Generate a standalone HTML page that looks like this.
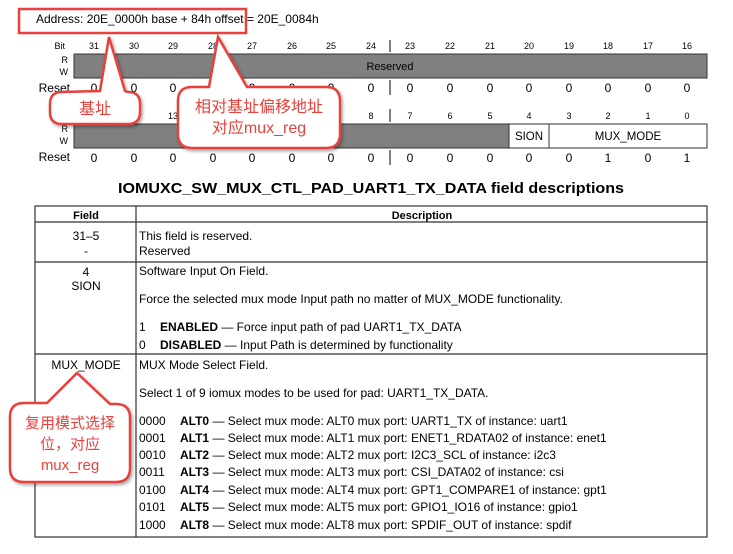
<!DOCTYPE html>
<html><head><meta charset="utf-8"><style>
html,body{margin:0;padding:0;background:#fff;}
svg{display:block;font-family:"Liberation Sans",Arial,sans-serif;}
.cj{font-family:"Liberation Sans","Noto Sans CJK SC",sans-serif;}
</style></head><body>
<svg width="733" height="554" viewBox="0 0 733 554" xmlns="http://www.w3.org/2000/svg">
<defs>
<filter id="sh" x="-20%" y="-20%" width="140%" height="140%"><feDropShadow dx="1.5" dy="2" stdDeviation="1.5" flood-color="#000" flood-opacity="0.35"/></filter>
</defs>
<text x="36" y="23" font-size="12">Address: 20E_0000h base + 84h offset = 20E_0084h</text>

<g font-size="9" text-anchor="middle">
<text x="65" y="49" text-anchor="end">Bit</text>
<text x="94" y="49">31</text><text x="134" y="49">30</text><text x="173" y="49">29</text><text x="213" y="49">28</text>
<text x="252" y="49">27</text><text x="292" y="49">26</text><text x="331" y="49">25</text><text x="371" y="49">24</text>
<text x="410" y="49">23</text><text x="450" y="49">22</text><text x="490" y="49">21</text><text x="529" y="49">20</text>
<text x="569" y="49">19</text><text x="608" y="49">18</text><text x="648" y="49">17</text><text x="687" y="49">16</text>
<text x="68" y="63" text-anchor="end">R</text><text x="68" y="75" text-anchor="end">W</text>
</g>
<rect x="74" y="54" width="633" height="24" fill="#808080" stroke="#333" stroke-width="1"/>
<text x="390" y="70" font-size="11" text-anchor="middle">Reserved</text>
<line x1="390" y1="40" x2="390" y2="52" stroke="#000"/>
<line x1="390" y1="80" x2="390" y2="95" stroke="#000"/>
<g font-size="12" text-anchor="middle">
<text x="70" y="92" text-anchor="end">Reset</text>
<text x="94" y="92">0</text><text x="134" y="92">0</text><text x="173" y="92">0</text><text x="213" y="92">0</text>
<text x="252" y="92">0</text><text x="292" y="92">0</text><text x="331" y="92">0</text><text x="371" y="92">0</text>
<text x="410" y="92">0</text><text x="450" y="92">0</text><text x="490" y="92">0</text><text x="529" y="92">0</text>
<text x="569" y="92">0</text><text x="608" y="92">0</text><text x="648" y="92">0</text><text x="687" y="92">0</text>
</g>

<g font-size="9" text-anchor="middle">
<text x="94" y="119">15</text><text x="134" y="119">14</text><text x="173" y="119">13</text><text x="213" y="119">12</text>
<text x="252" y="119">11</text><text x="292" y="119">10</text><text x="331" y="119">9</text><text x="371" y="119">8</text>
<text x="410" y="119">7</text><text x="450" y="119">6</text><text x="490" y="119">5</text><text x="529" y="119">4</text>
<text x="569" y="119">3</text><text x="608" y="119">2</text><text x="648" y="119">1</text><text x="687" y="119">0</text>
<text x="68" y="132" text-anchor="end">R</text><text x="68" y="144" text-anchor="end">W</text>
</g>
<rect x="74" y="124" width="435" height="24" fill="#808080" stroke="#333"/>
<rect x="509" y="124" width="40" height="24" fill="#fff" stroke="#333"/>
<rect x="549" y="124" width="158" height="24" fill="#fff" stroke="#333"/>
<text x="529" y="140" font-size="11.5" text-anchor="middle">SION</text>
<text x="628" y="140" font-size="11.5" text-anchor="middle">MUX_MODE</text>
<line x1="390" y1="109" x2="390" y2="122" stroke="#000"/>
<line x1="390" y1="150" x2="390" y2="165" stroke="#000"/>
<g font-size="12" text-anchor="middle">
<text x="70" y="161" text-anchor="end">Reset</text>
<text x="94" y="162">0</text><text x="134" y="162">0</text><text x="173" y="162">0</text><text x="213" y="162">0</text>
<text x="252" y="162">0</text><text x="292" y="162">0</text><text x="331" y="162">0</text><text x="371" y="162">0</text>
<text x="410" y="162">0</text><text x="450" y="162">0</text><text x="490" y="162">0</text><text x="529" y="162">0</text>
<text x="569" y="162">0</text><text x="608" y="162">1</text><text x="648" y="162">0</text><text x="687" y="162">1</text>
</g>

<text x="371" y="193" font-size="15" font-weight="bold" text-anchor="middle" textLength="506" lengthAdjust="spacingAndGlyphs">IOMUXC_SW_MUX_CTL_PAD_UART1_TX_DATA field descriptions</text>

<rect x="35" y="206" width="672" height="331" fill="none" stroke="#333" stroke-width="1.2"/>
<line x1="35" y1="222" x2="707" y2="222" stroke="#333" stroke-width="1.2"/>
<line x1="35" y1="262" x2="707" y2="262" stroke="#333" stroke-width="1.2"/>
<line x1="35" y1="354" x2="707" y2="354" stroke="#333" stroke-width="1.2"/>
<line x1="136" y1="206" x2="136" y2="537" stroke="#333" stroke-width="1.2"/>
<g font-size="12">
<text x="86" y="219" font-size="11" font-weight="bold" text-anchor="middle">Field</text>
<text x="422" y="219" font-size="11" font-weight="bold" text-anchor="middle">Description</text>
<text x="86" y="240" text-anchor="middle">31–5</text>
<text x="86" y="255" text-anchor="middle">-</text>
<text x="139" y="240">This field is reserved.</text>
<text x="139" y="255">Reserved</text>
<text x="86" y="276" text-anchor="middle">4</text>
<text x="86" y="290" text-anchor="middle">SION</text>
<text x="139" y="275">Software Input On Field.</text>
<text x="139" y="303">Force the selected mux mode Input path no matter of MUX_MODE functionality.</text>
<text x="139" y="331">1</text><text x="160" y="331"><tspan font-weight="bold">ENABLED</tspan> — Force input path of pad UART1_TX_DATA</text>
<text x="139" y="349">0</text><text x="160" y="349"><tspan font-weight="bold">DISABLED</tspan> — Input Path is determined by functionality</text>
<text x="86" y="369" text-anchor="middle">MUX_MODE</text>
<text x="139" y="369">MUX Mode Select Field.</text>
<text x="139" y="397">Select 1 of 9 iomux modes to be used for pad: UART1_TX_DATA.</text>
<text x="139" y="425">0000</text><text x="180" y="425"><tspan font-weight="bold">ALT0</tspan> — Select mux mode: ALT0 mux port: UART1_TX of instance: uart1</text>
<text x="139" y="442">0001</text><text x="180" y="442"><tspan font-weight="bold">ALT1</tspan> — Select mux mode: ALT1 mux port: ENET1_RDATA02 of instance: enet1</text>
<text x="139" y="459">0010</text><text x="180" y="459"><tspan font-weight="bold">ALT2</tspan> — Select mux mode: ALT2 mux port: I2C3_SCL of instance: i2c3</text>
<text x="139" y="476">0011</text><text x="180" y="476"><tspan font-weight="bold">ALT3</tspan> — Select mux mode: ALT3 mux port: CSI_DATA02 of instance: csi</text>
<text x="139" y="494">0100</text><text x="180" y="494"><tspan font-weight="bold">ALT4</tspan> — Select mux mode: ALT4 mux port: GPT1_COMPARE1 of instance: gpt1</text>
<text x="139" y="511">0101</text><text x="180" y="511"><tspan font-weight="bold">ALT5</tspan> — Select mux mode: ALT5 mux port: GPIO1_IO16 of instance: gpio1</text>
<text x="139" y="529">1000</text><text x="180" y="529"><tspan font-weight="bold">ALT8</tspan> — Select mux mode: ALT8 mux port: SPDIF_OUT of instance: spdif</text>
</g>

<rect x="19" y="9" width="227" height="24" fill="none" stroke="#e8413c" stroke-width="2.5"/>

<path d="M62 92 L100 91 L109 37 L125 91 L128 92 Q140 92 140 104 L140 112 Q140 124 128 124 L62 124 Q50 124 50 112 L50 104 Q50 92 62 92 Z" fill="#fff" stroke="#e8413c" stroke-width="2.5" filter="url(#sh)"/>
<text x="95" y="114" class="cj" font-size="16" fill="#e8413c" text-anchor="middle">基址</text>

<path d="M192 87 L209 87 L218 37 L247 87 L326 87 Q340 87 340 101 L340 134 Q340 148 326 148 L192 148 Q178 148 178 134 L178 101 Q178 87 192 87 Z" fill="#fff" stroke="#e8413c" stroke-width="2.5" filter="url(#sh)"/>
<text x="259" y="112" class="cj" font-size="16" fill="#e8413c" text-anchor="middle">相对基址偏移地址</text>
<text x="259" y="133" class="cj" font-size="16" fill="#e8413c" text-anchor="middle">对应mux_reg</text>

<path d="M24 403 L47 403 L77 373 L110 404 L116 404 Q130 404 130 418 L130 468 Q130 482 116 482 L24 482 Q10 482 10 468 L10 417 Q10 403 24 403 Z" fill="#fff" stroke="#e8413c" stroke-width="2.5" filter="url(#sh)"/>
<text x="70" y="428" class="cj" font-size="15" fill="#e8413c" text-anchor="middle">复用模式选择</text>
<text x="70" y="449" class="cj" font-size="15" fill="#e8413c" text-anchor="middle">位，对应</text>
<text x="70" y="470" class="cj" font-size="15" fill="#e8413c" text-anchor="middle">mux_reg</text>
</svg>
</body></html>
